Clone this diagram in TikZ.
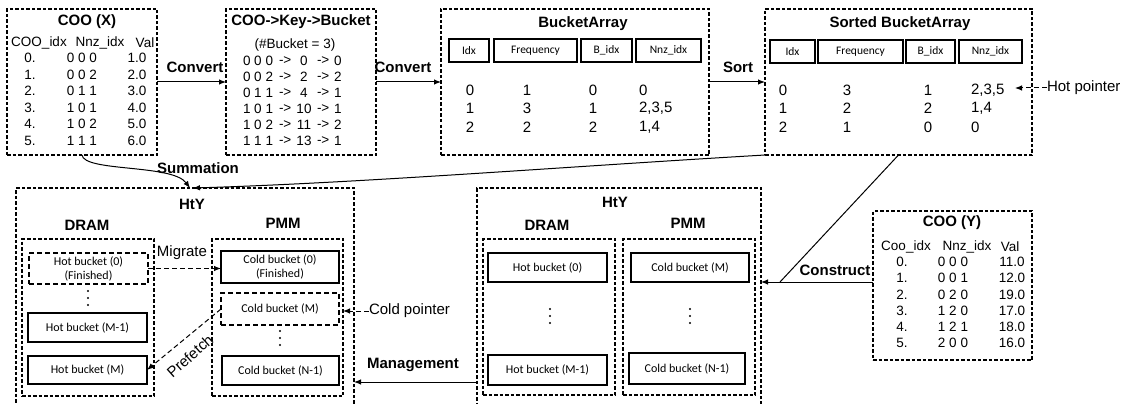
\documentclass[tikz,border=0pt]{standalone}
\usepackage{fontspec}
\setmainfont{Liberation Sans}
\newfontfamily\calfont{Carlito}
\usetikzlibrary{arrows.meta,fit,calc}

\begin{document}
\begin{tikzpicture}[x=1pt,y=-1pt,
  every node/.style={inner sep=0pt, outer sep=0pt},
  font=\fontsize{13.5}{16}\selectfont,
  grp/.style={draw, line width=1.1pt, dash pattern=on 3.5pt off 2pt, fit={#1}, inner sep=0pt},
  sz/.style 2 args={minimum width=#1, minimum height=#2},
  hcell/.style={draw, line width=1.4pt, font=\calfont\fontsize{11.5}{13}\selectfont},
  bucket/.style={draw, line width=1.4pt, align=center,
    font=\calfont\fontsize{12}{14}\selectfont},
  dbucket/.style={bucket, line width=1.2pt, dash pattern=on 5pt off 3pt},
  ttl/.style={font=\bfseries\fontsize{15}{18}\selectfont},
  lbl/.style={font=\fontsize{15}{18}\selectfont},
  big/.style={font=\fontsize{15}{18}\selectfont},
  arr/.style={-{Latex[length=7pt,width=5.5pt]}, line width=1pt},
  darr/.style={arr, dash pattern=on 5pt off 3pt},
  link/.style={line width=1pt}]

\useasboundingbox (0,0) rectangle (1122,404);

% ---------- top row: COO (X) ----------
\node[grp={(7,9) (157,155)}] (cooX) {};
\node[ttl] (cooXt) at (87,22) {COO (X)};
\node (cxh1) at (39,43) {COO\_idx};
\node (cxh2) at (100,43) {Nnz\_idx};
\node (cxh3) at (145,43) {Val};
\foreach \a/\b/\c [count=\i from 0] in
  {0./0 0 0/1.0, 1./0 0 2/2.0, 2./0 1 1/3.0, 3./1 0 1/4.0, 4./1 0 2/5.0, 5./1 1 1/6.0}{
  \node (cx\i a) at (30,58+16.5*\i) {\a};
  \node (cx\i b) at (82,58+16.5*\i) {\b};
  \node (cx\i c) at (137,58+16.5*\i) {\c};
}

% ---------- COO -> Key -> Bucket ----------
\node[grp={(226,9) (376,155)}] (kb) {};
\node[ttl] (kbt) at (301,22) {COO->Key->Bucket};
\node (kbn) at (295,45) {(\#Bucket = 3)};
\foreach \a/\b/\c [count=\i from 0] in
  {0 0 0/0/0, 0 0 2/2/2, 0 1 1/4/1, 1 0 1/10/1, 1 0 2/11/2, 1 1 1/13/1}{
  \node[anchor=west] (kb\i a) at (243,61+16*\i) {\a};
  \node[anchor=west] (kb\i p) at (279,61+16*\i) {->};
  \node (kb\i b) at (304,61+16*\i) {\b};
  \node[anchor=west] (kb\i q) at (317,61+16*\i) {->};
  \node[anchor=west] (kb\i c) at (334,61+16*\i) {\c};
}

% ---------- BucketArray ----------
\node[grp={(441,9) (709,155)}] (ba) {};
\node[ttl] (bat) at (583,24) {BucketArray};
\node[hcell, sz={40}{23}] (bah1) at (469,50.5) {Idx};
\node[hcell, sz={83}{23}] (bah2) at (535.5,50.5) {Frequency};
\node[hcell, sz={51}{23}] (bah3) at (606.5,50.5) {B\_idx};
\node[hcell, sz={65}{23}] (bah4) at (668.5,50.5) {Nnz\_idx};
\foreach \a/\b/\c/\d [count=\i from 0] in
  {0/1/0/0, 1/3/1/{2,3,5}, 2/2/2/{1,4}}{
  \node[big] (ba\i a) at (470,90+18.5*\i) {\a};
  \node[big] (ba\i b) at (527,90+18.5*\i) {\b};
  \node[big] (ba\i c) at (593,90+18.5*\i) {\c};
  \node[big,anchor=west] (ba\i d) at (639,90+18.5*\i) {\d};
}

% ---------- Sorted BucketArray ----------
\node[grp={(765,9) (1032,155)}] (sba) {};
\node[ttl] (sbat) at (900,24) {Sorted BucketArray};
\node[hcell, sz={45}{23}] (sbh1) at (792.5,51.5) {Idx};
\node[hcell, sz={85}{23}] (sbh2) at (860.5,51.5) {Frequency};
\node[hcell, sz={49}{23}] (sbh3) at (930.5,51.5) {B\_idx};
\node[hcell, sz={63}{23}] (sbh4) at (990.5,51.5) {Nnz\_idx};
\foreach \a/\b/\c/\d [count=\i from 0] in
  {0/3/1/{2,3,5}, 1/2/2/{1,4}, 2/1/0/0}{
  \node[big] (sb\i a) at (783,90+18.5*\i) {\a};
  \node[big] (sb\i b) at (847,90+18.5*\i) {\b};
  \node[big] (sb\i c) at (928,90+18.5*\i) {\c};
  \node[big,anchor=west] (sb\i d) at (971,90+18.5*\i) {\d};
}
\node[lbl,anchor=west] (hotp) at (1047,88) {Hot pointer};
\coordinate (hpt) at (1015,88);
\draw[darr] (hotp.west) -- (hpt);

% ---------- top row connectors ----------
\draw[arr] (cooX.east) -- (kb.west);
\node[ttl] (cv1) at (195,67) {Convert};
\draw[arr] (kb.east) -- (ba.west);
\node[ttl] (cv2) at (403,67) {Convert};
\draw[arr] (ba.east) -- (sba.west);
\node[ttl] (srt) at (738,67) {Sort};

% ---------- HtY (left) ----------
\node[grp={(16,188) (354,412)}] (htA) {};
\node[ttl] (htAt) at (192,204) {HtY};
\node[ttl] (dramAt) at (87,225) {DRAM};
\node[ttl] (pmmAt) at (283,223) {PMM};
\node[grp={(22,239) (154,396)}] (dramA) {};
\node[grp={(212,239) (343,396)}] (pmmA) {};
\node[dbucket, sz={119}{31}] (hb0) at (88.5,268.5) {Hot bucket (0)\\(Finished)};
\node[bucket, sz={119}{29}] (hbM1) at (87.5,327.5) {Hot bucket (M-1)};
\node[bucket, sz={119}{28}] (hbM) at (87.5,370) {Hot bucket (M)};
\node[bucket, sz={118}{32}] (cb0) at (280,267) {Cold bucket (0)\\(Finished)};
\node[dbucket, sz={118}{32}] (cbM) at (280,309) {Cold bucket (M)};
\node[bucket, sz={117}{29}] (cbN1) at (280.5,370.5) {Cold bucket (N-1)};

% vertical ellipses between buckets
\foreach \px/\py in {88/298, 280/338, 550/316, 690/316}
  \foreach \k in {-1,0,1}
    \fill (\px,\py+7*\k) circle (1.2pt);

\draw[darr] (hb0.east) -- (cb0.west |- hb0.east);
\node[lbl] (mig) at (182,253) {Migrate};
\draw[darr] (cbM.west) -- (hbM.east);
\node[lbl,rotate=41.6] (pf) at (190,356) {Prefetch};
\node[lbl,anchor=west] (coldp) at (369,311) {Cold pointer};
\draw[darr] (coldp.west) -- (pmmA.east |- coldp.west);

% ---------- HtY (right) ----------
\node[grp={(477,188) (761,412)}] (htB) {};
\node[ttl] (htBt) at (615,202) {HtY};
\node[ttl] (dramBt) at (547,225) {DRAM};
\node[ttl] (pmmBt) at (688,223) {PMM};
\node[grp={(483,239) (615,395)}] (dramB) {};
\node[grp={(623,239) (755,395)}] (pmmB) {};
\node[bucket, sz={119}{29}] (hb0B) at (547.5,267.5) {Hot bucket (0)};
\node[bucket, sz={119}{30}] (hbM1B) at (547.5,370) {Hot bucket (M-1)};
\node[bucket, sz={118}{29}] (cbMB) at (690,267.5) {Cold bucket (M)};
\node[bucket, sz={116}{31}] (cbN1B) at (687,368.5) {Cold bucket (N-1)};

% ---------- COO (Y) ----------
\node[grp={(873,211) (1032,360)}] (cooY) {};
\node[ttl] (cooYt) at (952,223) {COO (Y)};
\node (cyh1) at (906,247) {Coo\_idx};
\node (cyh2) at (967,247) {Nnz\_idx};
\node (cyh3) at (1010,247) {Val};
\foreach \a/\b/\c [count=\i from 0] in
  {0./0 0 0/11.0, 1./0 0 1/12.0, 2./0 2 0/19.0, 3./1 2 0/17.0, 4./1 2 1/18.0, 5./2 0 0/16.0}{
  \node (cy\i a) at (902,262+16.2*\i) {\a};
  \node (cy\i b) at (953,262+16.2*\i) {\b};
  \node (cy\i c) at (1012,262+16.2*\i) {\c};
}

% ---------- connectors between rows ----------
\draw[arr] (cooX.south) .. controls (84,172) and (172,164) .. ([xshift=5pt]htA.north);
\node[ttl] (sum) at (198,168) {Summation};
\draw[arr] (sba.south west) .. controls (560,167) and (360,183) .. ([xshift=8pt]htA.north);

\coordinate (cj) at (780,282);
\draw[link] (sba.south) -- (cj);
\draw[arr] (cooY.west |- cj) -- (htB.east |- cj);
\node[ttl] (cons) at (835,270) {Construct};

\coordinate (mg) at (420,382);
\draw[arr] (htB.west |- mg) -- (htA.east |- mg);
\node[ttl] (mgt) at (413,365) {Management};

\end{tikzpicture}
\end{document}
